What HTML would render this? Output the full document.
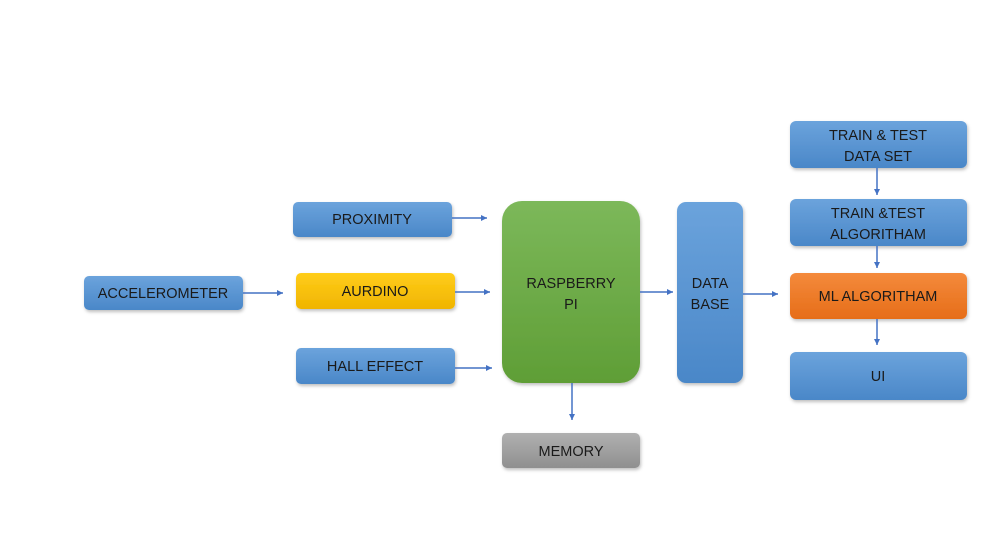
<!DOCTYPE html>
<html><head><style>
body{margin:0;background:#fff;}
svg text{font-family:"Liberation Sans",sans-serif;font-size:14.5px;fill:#1a1a1a;text-anchor:middle;}
</style></head><body>
<svg width="995" height="549" viewBox="0 0 995 549">
<defs>
<linearGradient id="b" x1="0" y1="0" x2="0" y2="1"><stop offset="0" stop-color="#6ba3dc"/><stop offset="1" stop-color="#4a87c8"/></linearGradient>
<linearGradient id="g" x1="0" y1="0" x2="0" y2="1"><stop offset="0" stop-color="#7cb85a"/><stop offset="1" stop-color="#5f9e36"/></linearGradient>
<linearGradient id="y" x1="0" y1="0" x2="0" y2="1"><stop offset="0" stop-color="#ffcd1a"/><stop offset="1" stop-color="#f0b400"/></linearGradient>
<linearGradient id="o" x1="0" y1="0" x2="0" y2="1"><stop offset="0" stop-color="#f48a3c"/><stop offset="1" stop-color="#e66d18"/></linearGradient>
<linearGradient id="m" x1="0" y1="0" x2="0" y2="1"><stop offset="0" stop-color="#b0b0b0"/><stop offset="1" stop-color="#8f8f8f"/></linearGradient>
<filter id="s" x="-10%" y="-10%" width="130%" height="140%"><feDropShadow dx="1" dy="2" stdDeviation="1.5" flood-color="#000" flood-opacity="0.25"/></filter>
<marker id="a" markerWidth="8" markerHeight="8" refX="6" refY="3" orient="auto" markerUnits="userSpaceOnUse"><path d="M0,0 L6,3 L0,6z" fill="#4472c4"/></marker>
</defs>
<g filter="url(#s)">
<rect x="84" y="276" width="159" height="34" rx="5" fill="url(#b)"/>
<rect x="293" y="202" width="159" height="35" rx="5" fill="url(#b)"/>
<rect x="296" y="273" width="159" height="36" rx="5" fill="url(#y)"/>
<rect x="296" y="348" width="159" height="36" rx="5" fill="url(#b)"/>
<rect x="502" y="201" width="138" height="182" rx="20" fill="url(#g)"/>
<rect x="502" y="433" width="138" height="35" rx="5" fill="url(#m)"/>
<rect x="677" y="202" width="66" height="181" rx="9" fill="url(#b)"/>
<rect x="790" y="121" width="177" height="47" rx="6" fill="url(#b)"/>
<rect x="790" y="199" width="177" height="47" rx="6" fill="url(#b)"/>
<rect x="790" y="273" width="177" height="46" rx="6" fill="url(#o)"/>
<rect x="790" y="352" width="177" height="48" rx="6" fill="url(#b)"/>
</g>
<g stroke="#4472c4" stroke-width="1.5" marker-end="url(#a)">
<line x1="243" y1="293" x2="283" y2="293"/>
<line x1="452" y1="218" x2="487" y2="218"/>
<line x1="455" y1="292" x2="490" y2="292"/>
<line x1="455" y1="368" x2="492" y2="368"/>
<line x1="640" y1="292" x2="673" y2="292"/>
<line x1="743" y1="294" x2="778" y2="294"/>
<line x1="877" y1="168" x2="877" y2="195"/>
<line x1="877" y1="246" x2="877" y2="268"/>
<line x1="877" y1="319" x2="877" y2="345"/>
<line x1="572" y1="383" x2="572" y2="420"/>
</g>
<text x="163" y="298">ACCELEROMETER</text>
<text x="372" y="224">PROXIMITY</text>
<text x="375" y="296">AURDINO</text>
<text x="375" y="371">HALL EFFECT</text>
<text x="571" y="288">RASPBERRY</text>
<text x="571" y="309">PI</text>
<text x="571" y="456">MEMORY</text>
<text x="710" y="288">DATA</text>
<text x="710" y="309">BASE</text>
<text x="878" y="140">TRAIN &amp; TEST</text>
<text x="878" y="161">DATA SET</text>
<text x="878" y="218">TRAIN &amp;TEST</text>
<text x="878" y="239">ALGORITHAM</text>
<text x="878" y="301">ML ALGORITHAM</text>
<text x="878" y="381">UI</text>
</svg>
</body></html>
